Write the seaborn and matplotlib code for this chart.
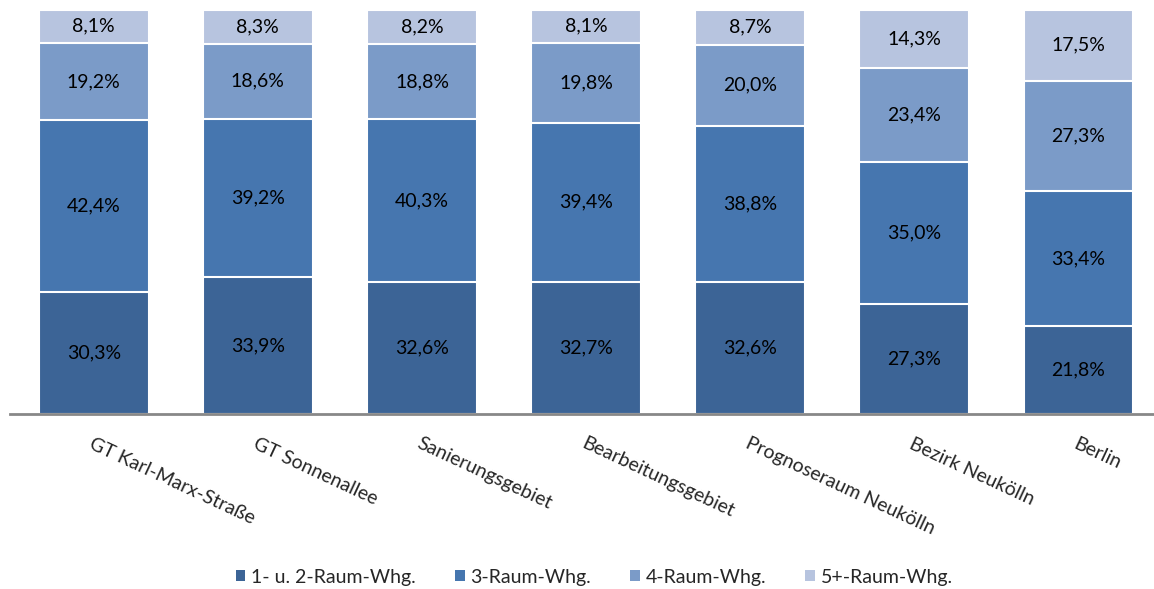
import numpy as np
import pandas as pd
import seaborn as sns
import matplotlib.pyplot as plt
from matplotlib.patches import Patch

# Daten
gebiete = ["GT Karl-Marx-Straße", "GT Sonnenallee", "Sanierungsgebiet",
           "Bearbeitungsgebiet", "Prognoseraum Neukölln", "Bezirk Neukölln", "Berlin"]
raum_12 = [30.3, 33.9, 32.6, 32.7, 32.6, 27.3, 21.8]
raum_3 = [42.4, 39.2, 40.3, 39.4, 38.8, 35.0, 33.4]
raum_4 = [19.2, 18.6, 18.8, 19.8, 20.0, 23.4, 27.3]
raum_5 = [8.1, 8.3, 8.2, 8.1, 8.7, 14.3, 17.5]
serien = ["1- u. 2-Raum-Whg.", "3-Raum-Whg.", "4-Raum-Whg.", "5+-Raum-Whg."]
farben = ["#3C6496", "#4676AF", "#7B9BC8", "#B7C4DF"]

sns.set_style("white")
plt.rcParams["font.family"] = ["Lato", "DejaVu Sans"]

df = pd.DataFrame({"Gebiet": gebiete, serien[0]: raum_12, serien[1]: raum_3,
                   serien[2]: raum_4, serien[3]: raum_5})
werte = df[serien].to_numpy()
kum = werte.cumsum(axis=1)

fig = plt.figure(figsize=(11.54, 5.89), dpi=100)
ax = fig.add_axes([10 / 1154, 175 / 589, 1144 / 1154, 404 / 589])

# gestapelt: von oben nach unten übermalen
for i in range(len(serien) - 1, -1, -1):
    sns.barplot(x=df["Gebiet"], y=kum[:, i], color=farben[i], width=0.67,
                edgecolor="white", linewidth=1.5, saturation=1, ax=ax)

# Werte-Beschriftung
for j in range(len(gebiete)):
    for i in range(len(serien)):
        mitte = kum[j, i] - werte[j, i] / 2
        ax.text(j, mitte, f"{werte[j, i]:.1f}%".replace(".", ","),
                ha="center", va="center", fontsize=14, color="black")

ax.set_xlim(-0.51, 6.46)
ax.set_ylim(0, 100)
ax.set_xlabel("")
ax.set_ylabel("")
ax.set_yticks([])
for s in ["top", "right", "left"]:
    ax.spines[s].set_visible(False)
ax.spines["bottom"].set_color("#888888")
ax.spines["bottom"].set_linewidth(2)

ax.tick_params(axis="x", length=0, pad=15)
ax.set_xticks(range(len(gebiete)))
ax.set_xticklabels(gebiete, rotation=-25, ha="left", rotation_mode="anchor",
                   fontsize=14)

handles = [Patch(facecolor=farben[i], edgecolor="none", label=serien[i])
           for i in range(len(serien))]
fig.legend(handles=handles, loc="center", bbox_to_anchor=(0.515, 12 / 589),
           ncol=4, frameon=False, fontsize=14, handlelength=0.5, handleheight=0.5,
           handletextpad=0.3, columnspacing=2.0)

fig.savefig("out.png", dpi=100)
